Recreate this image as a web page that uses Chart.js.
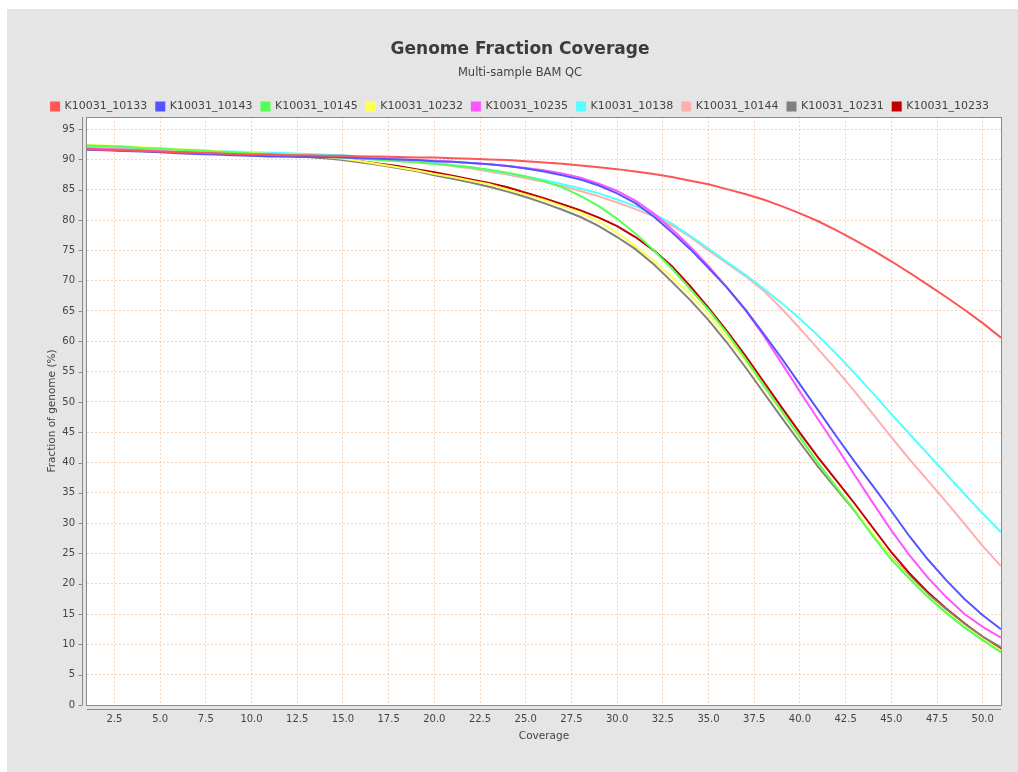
<!DOCTYPE html>
<html>
<head>
<meta charset="utf-8">
<script src="https://cdn.jsdelivr.net/npm/chart.js@4.4.1/dist/chart.umd.min.js"></script>
<style>
    body { margin: 0; background: #fff; }
    #wrap { width: 1018px; height: 772px; }
</style>
</head>
<body>
<div id="wrap"><canvas id="coverage"></canvas></div>
<script>
const coverage = [1, 2, 3, 4, 5, 6, 7, 8, 9, 10, 11, 12, 13, 14, 15, 16, 17, 18, 19, 20,
    21, 22, 23, 24, 25, 26, 27, 28, 29, 30, 31, 32, 33, 34, 35, 36, 37, 38, 39, 40,
    41, 42, 43, 44, 45, 46, 47, 48, 49, 50, 51];

const xTicks = [2.5, 5, 7.5, 10, 12.5, 15, 17.5, 20, 22.5, 25, 27.5, 30, 32.5, 35, 37.5, 40, 42.5, 45, 47.5, 50];
const yTicks = [0, 5, 10, 15, 20, 25, 30, 35, 40, 45, 50, 55, 60, 65, 70, 75, 80, 85, 90, 95];

const samples = ["K10031_10133", "K10031_10143", "K10031_10145", "K10031_10232", "K10031_10235",
    "K10031_10138", "K10031_10144", "K10031_10231", "K10031_10233"];
const colors = ["#ff5555", "#5555ff", "#55ff55", "#ffff55", "#ff55ff", "#55ffff", "#ffafaf", "#808080", "#c00000"];

const s10133 = [91.7, 91.6, 91.5, 91.4, 91.3, 91.2, 91.1, 91.0, 90.9, 90.8,
    90.8, 90.7, 90.7, 90.6, 90.6, 90.5, 90.5, 90.4, 90.3, 90.3,
    90.2, 90.1, 90.0, 89.9, 89.7, 89.5, 89.3, 89.0, 88.7, 88.4,
    88.0, 87.6, 87.1, 86.5, 85.9, 85.1, 84.3, 83.4, 82.3, 81.1,
    79.8, 78.3, 76.7, 75.0, 73.2, 71.3, 69.3, 67.3, 65.2, 63.0, 60.6];
const s10143 = [91.6, 91.5, 91.4, 91.3, 91.2, 91.0, 90.9, 90.8, 90.7, 90.6,
    90.5, 90.5, 90.4, 90.4, 90.3, 90.2, 90.1, 90.0, 89.9, 89.7,
    89.6, 89.4, 89.2, 88.9, 88.5, 88.0, 87.4, 86.7, 85.7, 84.4,
    82.8, 80.6, 78.0, 75.2, 72.1, 68.9, 65.3, 61.3, 57.2, 52.9,
    48.6, 44.3, 40.1, 36.1, 32.0, 27.8, 24.0, 20.6, 17.5, 14.8, 12.5];
const s10145 = [92.3, 92.2, 92.1, 91.9, 91.8, 91.6, 91.5, 91.3, 91.2, 91.0,
    90.9, 90.8, 90.6, 90.5, 90.3, 90.1, 89.9, 89.7, 89.5, 89.3,
    89.0, 88.7, 88.3, 87.8, 87.2, 86.4, 85.4, 84.0, 82.3, 80.2,
    77.8, 75.0, 72.0, 68.6, 65.2, 61.4, 57.2, 52.8, 48.5, 44.2,
    39.9, 35.9, 32.0, 27.8, 24.0, 20.8, 17.8, 15.2, 12.8, 10.7, 8.7];
const s10232 = [92.4, 92.3, 92.2, 92.0, 91.9, 91.7, 91.6, 91.4, 91.2, 91.1,
    90.9, 90.8, 90.6, 90.4, 90.1, 89.7, 89.2, 88.7, 88.2, 87.6,
    87.1, 86.5, 85.9, 85.0, 84.2, 83.3, 82.3, 81.2, 79.8, 77.9,
    75.7, 73.3, 70.6, 67.7, 64.4, 60.7, 56.8, 52.6, 48.3, 44.0,
    39.8, 36.0, 32.2, 28.2, 24.3, 21.0, 18.0, 15.4, 13.0, 10.9, 9.0];
const s10235 = [91.8, 91.7, 91.6, 91.5, 91.3, 91.2, 91.1, 91.0, 90.8, 90.7,
    90.6, 90.5, 90.4, 90.4, 90.3, 90.2, 90.1, 90.0, 89.9, 89.8,
    89.6, 89.4, 89.2, 88.9, 88.6, 88.2, 87.7, 87.0, 86.0, 84.8,
    83.2, 81.1, 78.5, 75.6, 72.4, 68.9, 65.2, 61.0, 56.4, 51.7,
    47.1, 42.6, 37.9, 33.3, 28.8, 24.7, 21.0, 17.8, 15.0, 12.9, 11.1];
const s10138 = [92.2, 92.1, 92.0, 91.9, 91.8, 91.7, 91.5, 91.4, 91.3, 91.2,
    91.1, 91.0, 90.9, 90.8, 90.7, 90.5, 90.3, 90.1, 89.8, 89.5,
    89.1, 88.7, 88.2, 87.7, 87.2, 86.6, 85.9, 85.2, 84.4, 83.4,
    82.3, 81.0, 79.4, 77.4, 75.3, 73.1, 71.0, 68.7, 66.3, 63.7,
    60.9, 57.9, 54.7, 51.4, 48.0, 44.7, 41.4, 38.1, 34.8, 31.6, 28.5];
const s10144 = [92.0, 91.9, 91.8, 91.7, 91.6, 91.5, 91.4, 91.3, 91.1, 91.0,
    90.9, 90.8, 90.7, 90.6, 90.5, 90.3, 90.1, 89.9, 89.6, 89.3,
    88.9, 88.5, 88.0, 87.5, 86.9, 86.3, 85.6, 84.8, 83.9, 82.9,
    81.8, 80.6, 79.1, 77.2, 75.0, 72.9, 70.8, 68.4, 65.4, 62.1,
    58.7, 55.3, 51.7, 48.0, 44.2, 40.5, 37.0, 33.5, 29.9, 26.2, 22.9];
const s10231 = [92.0, 91.9, 91.8, 91.6, 91.5, 91.4, 91.2, 91.1, 90.9, 90.8,
    90.7, 90.6, 90.4, 90.2, 89.9, 89.5, 89.1, 88.6, 88.1, 87.4,
    86.8, 86.2, 85.5, 84.7, 83.8, 82.8, 81.7, 80.5, 79.0, 77.2,
    75.2, 72.7, 69.8, 66.8, 63.5, 59.8, 55.8, 51.6, 47.4, 43.3,
    39.3, 35.6, 32.0, 28.1, 24.4, 21.2, 18.3, 15.8, 13.4, 11.3, 9.5];
const s10233 = [91.7, 91.6, 91.5, 91.4, 91.3, 91.2, 91.1, 91.0, 90.9, 90.8,
    90.7, 90.6, 90.5, 90.3, 90.1, 89.7, 89.3, 88.9, 88.4, 87.9,
    87.3, 86.7, 86.1, 85.4, 84.5, 83.6, 82.6, 81.6, 80.4, 79.0,
    77.2, 75.0, 72.4, 69.1, 65.5, 61.7, 57.7, 53.4, 49.1, 44.9,
    40.8, 37.0, 33.2, 29.2, 25.2, 21.7, 18.6, 15.9, 13.5, 11.2, 9.2];

const series = [s10133, s10143, s10145, s10232, s10235, s10138, s10144, s10231, s10233];

Chart.defaults.font.family = "'DejaVu Sans', sans-serif";
Chart.defaults.color = "#444";

const gridColor = "rgba(236, 172, 125, 0.5)";

// grey panel, white plot, borders and offset axis lines like the java chart
const frame = {
    id: 'frame',
    afterLayout: (chart) => {
        // legend sits a little lower than chart.js would put it
        chart.legend.top += 5;
        chart.legend.bottom += 5;
    },
    beforeDraw: (chart) => {
        const {ctx, chartArea: a} = chart;
        ctx.save();
        ctx.fillStyle = '#fff';
        ctx.fillRect(0, 0, chart.width, chart.height);
        ctx.fillStyle = '#e5e5e5';
        ctx.fillRect(7, 9, chart.width - 7, chart.height - 9);
        ctx.fillStyle = '#fff';
        ctx.fillRect(a.left, a.top, a.right - a.left, a.bottom - a.top);
        ctx.restore();
    },
    afterDraw: (chart) => {
        const {ctx, chartArea: a} = chart;
        const y = chart.scales.y;
        ctx.save();
        ctx.strokeStyle = '#8a8a8a';
        ctx.lineWidth = 1;
        ctx.strokeRect(Math.round(a.left) - 0.5, Math.round(a.top) + 0.5,
            Math.round(a.right - a.left) + 1, Math.round(a.bottom - a.top));
        ctx.beginPath();
        const ax = Math.round(a.left) - 4.5;
        ctx.moveTo(ax, a.top);
        ctx.lineTo(ax, a.bottom);
        y.ticks.forEach(t => {
            const py = Math.round(y.getPixelForValue(t.value)) + 0.5;
            ctx.moveTo(ax - 4, py);
            ctx.lineTo(ax, py);
        });
        const ay = Math.round(a.bottom) + 4.5;
        ctx.moveTo(a.left, ay);
        ctx.lineTo(a.right, ay);
        ctx.stroke();
        ctx.restore();
    }
};

const chart = new Chart("coverage", {
    type: "line",
    data: {
        datasets: samples.map((name, i) => ({
            label: name,
            data: series[i].map((v, j) => ({x: coverage[j], y: v})),
            borderColor: colors[i],
            backgroundColor: colors[i],
            borderWidth: 2,
            pointRadius: 0,
            fill: false
        }))
    },
    options: {
        responsive: true,
        maintainAspectRatio: false,
        animation: false,
        layout: {
            padding: {left: 39, right: 17, top: 20, bottom: 17}
        },
        plugins: {
            title: {
                display: true,
                text: "Genome Fraction Coverage",
                color: "#3c3c3c",
                font: {size: 17, weight: "bold"},
                padding: {top: 19.8, bottom: 4}
            },
            subtitle: {
                display: true,
                text: "Multi-sample BAM QC",
                color: "#444",
                font: {size: 11.5},
                padding: {top: 2.2, bottom: 6.8}
            },
            legend: {
                labels: {
                    boxWidth: 8,
                    boxHeight: 8,
                    padding: 9,
                    color: "#444",
                    font: {size: 11}
                }
            },
            tooltip: {enabled: false}
        },
        scales: {
            x: {
                type: "linear",
                min: 1,
                max: 51,
                afterBuildTicks: (s) => { s.ticks = xTicks.map(v => ({value: v})); },
                afterFit: (s) => { s.height = 50; },
                grid: {color: gridColor, drawTicks: false},
                border: {display: false, dash: [2, 2]},
                ticks: {
                    padding: 8,
                    maxRotation: 0,
                    font: {size: 10},
                    color: "#444",
                    callback: (v) => v.toFixed(1)
                },
                title: {
                    display: true,
                    text: "Coverage",
                    font: {size: 10.5},
                    color: "#444",
                    padding: {top: 0, bottom: 12.7}
                }
            },
            y: {
                min: 0,
                max: 97,
                afterBuildTicks: (s) => { s.ticks = yTicks.map(v => ({value: v})); },
                afterFit: (s) => { s.width = 48; },
                grid: {color: gridColor, drawTicks: false},
                border: {display: false, dash: [2, 2]},
                ticks: {
                    padding: 12,
                    font: {size: 10},
                    color: "#444"
                },
                title: {
                    display: true,
                    text: "Fraction of genome (%)",
                    font: {size: 10.5},
                    color: "#444",
                    padding: {top: 7.4, bottom: 0}
                }
            }
        }
    },
    plugins: [frame]
});
</script>
</body>
</html>
